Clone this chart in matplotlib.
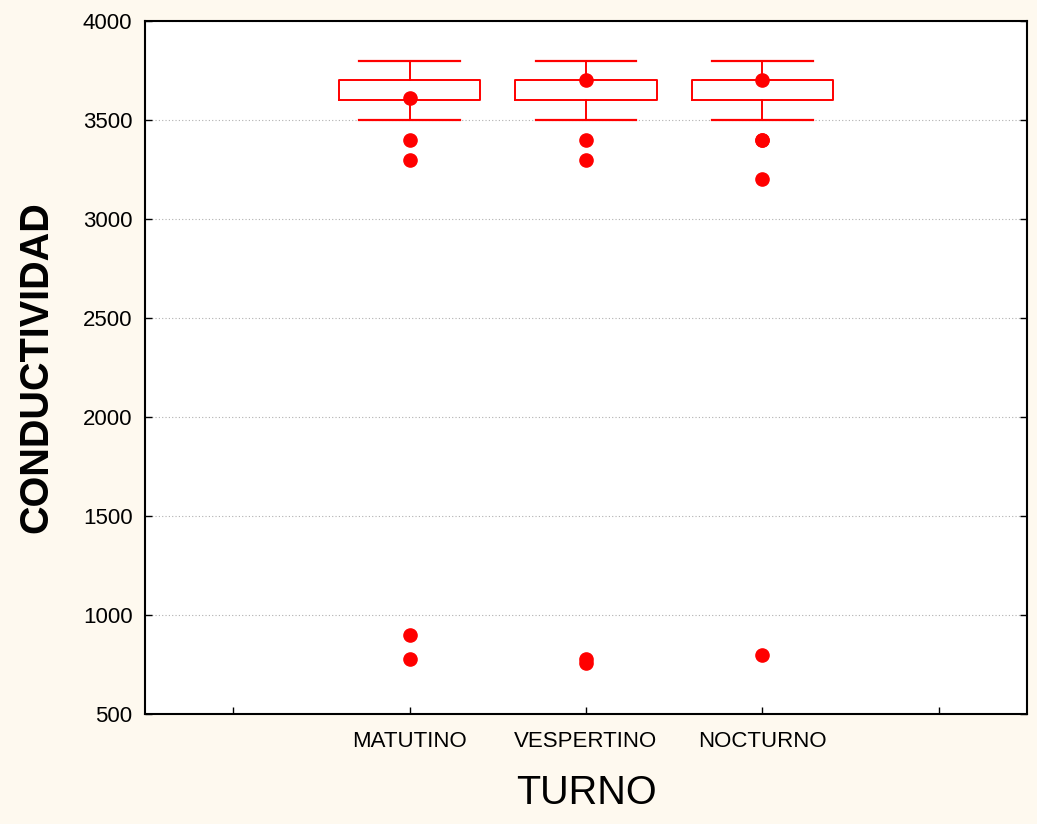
import matplotlib.pyplot as plt
import numpy as np

# datos
turnos = ["MATUTINO", "VESPERTINO", "NOCTURNO"]
medianas = [3610, 3700, 3700]
q1 = [3600, 3600, 3600]
q3 = [3700, 3700, 3700]
minimos = [3500, 3500, 3500]
maximos = [3800, 3800, 3800]
atipicos = [
    [3400, 3300, 900, 780],
    [3400, 3300, 780, 760],
    [3400, 3400, 3200, 800],
]
y_ticks = [500, 1000, 1500, 2000, 2500, 3000, 3500, 4000]

plt.rcParams['font.family'] = ['Liberation Sans', 'DejaVu Sans']
rojo = '#ff0000'
fondo = '#fef9ef'

fig = plt.figure(figsize=(10.37, 8.24), dpi=100, facecolor=fondo)
ax = fig.add_axes([0.1398, 0.1335, 0.8506, 0.841])
ax.set_facecolor('white')

pos = np.arange(1, len(turnos) + 1)
stats = []
for i in range(len(turnos)):
    stats.append({'med': medianas[i], 'q1': q1[i], 'q3': q3[i],
                  'whislo': minimos[i], 'whishi': maximos[i], 'fliers': []})

ax.bxp(stats, positions=pos, widths=0.8, showfliers=False,
       boxprops=dict(color=rojo, linewidth=1.4),
       whiskerprops=dict(color=rojo, linewidth=1.4),
       capprops=dict(color=rojo, linewidth=1.6),
       medianprops=dict(linewidth=0),
       capwidths=0.57, zorder=3)

ax.plot(pos, medianas, 'o', color=rojo, markersize=9.5, zorder=4)
for i, vals in enumerate(atipicos):
    ax.plot([pos[i]] * len(vals), vals, 'o', color=rojo, markersize=9.5, zorder=4)

ax.set_xlim(-0.5, 4.5)
ax.set_ylim(500, 4000)
ax.set_xticks([0, 1, 2, 3, 4])
ax.set_xticklabels([""] + turnos + [""])
ax.set_yticks(y_ticks)
ax.yaxis.grid(True, linestyle=(0, (1, 2)), color='#b0b0b0', linewidth=0.8)
ax.set_axisbelow(True)

ax.tick_params(axis='both', direction='in', length=5, width=1, labelsize=16,
               right=True, top=False, pad=9)
ax.tick_params(axis='x', pad=12)
for s in ax.spines.values():
    s.set_linewidth(1.5)

ax.set_ylabel("CONDUCTIVIDAD", fontsize=28.5, fontweight='bold', labelpad=20)
ax.set_xlabel("TURNO", fontsize=28.5, labelpad=16)

fig.savefig("out.png", dpi=100, facecolor=fondo)
